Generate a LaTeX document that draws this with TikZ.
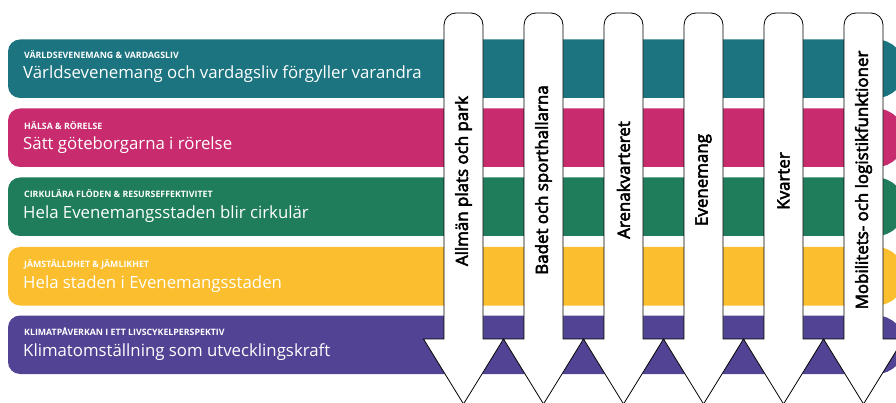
\documentclass[tikz,border=0pt]{standalone}
\usepackage{fontspec}
\setmainfont{Open Sans}
\newfontfamily\arrfont[FakeBold=3.2]{Open Sans}
\definecolor{bteal}{RGB}{28,116,128}
\definecolor{bmag}{RGB}{200,44,110}
\definecolor{bgreen}{RGB}{31,125,92}
\definecolor{byel}{RGB}{251,190,46}
\definecolor{bpurp}{RGB}{82,67,148}
\tikzset{
  capt/.style={anchor=base west, inner sep=0pt, text=white, font=\fontsize{8.8}{9}\selectfont\bfseries},
  maintxt/.style={anchor=base west, inner sep=0pt, text=white, font=\fontsize{16.8}{18}\selectfont},
  arrowbox/.style={fill=white, draw=black, line width=0.8pt, line join=miter},
  arrtxt/.style={rotate=90, inner sep=0pt, text=black, font=\arrfont\fontsize{16.9}{18}\selectfont}
}
\begin{document}
\begin{tikzpicture}[x=1pt,y=-1pt]
\useasboundingbox (0,0) rectangle (896,403);
\clip (0,0) rectangle (896,403);
% bands
\foreach \t/\c in {39.5/bteal,108.5/bmag,177.5/bgreen,247/byel,315.5/bpurp}{
  \fill[\c, rounded corners=12] (8,\t) rectangle (885,\t+58.5);
  \fill[\c] (876,\t+29.25) circle (29.25);
}
\node[capt] (c1) at (24,58.5) {VÄRLDSEVENEMANG \& VARDAGSLIV};
\node[maintxt] (m1) at (23,79) {Världsevenemang och vardagsliv förgyller varandra};
\node[capt] (c2) at (24,129.5) {HÄLSA \& RÖRELSE};
\node[maintxt] (m2) at (23,149.5) {Sätt göteborgarna i rörelse};
\node[capt] (c3) at (24,197.5) {CIRKULÄRA FLÖDEN \& RESURSEFFEKTIVITET};
\node[maintxt] (m3) at (23,218.5) {Hela Evenemangsstaden blir cirkulär};
\node[capt] (c4) at (24,267.5) {JÄMSTÄLLDHET \& JÄMLIKHET};
\node[maintxt] (m4) at (23,288) {Hela staden i Evenemangsstaden};
\node[capt] (c5) at (24,335.5) {KLIMATPÅVERKAN I ETT LIVSCYKELPERSPEKTIV};
\node[maintxt] (m5) at (23,356.5) {Klimatomställning som utvecklingskraft};
% arrows
\foreach \c in {463.5,543.5,623.5,703.5,783.5,863.5}{
  \draw[arrowbox] (\c-40,339) -- (\c-19.5,339) -- (\c-19.5,100) [rounded corners=12] -- (\c-19.5,13) -- (\c+19.5,13) -- (\c+19.5,100) [sharp corners] -- (\c+19.5,339) -- (\c+40,339) -- (\c,404) -- cycle;
}
\node[arrtxt] (a1) at (463.5,181) {Allmän plats och park};
\node[arrtxt] (a2) at (543.5,180) {Badet och sporthallarna};
\node[arrtxt] (a3) at (623.5,180) {Arenakvarteret};
\node[arrtxt] (a4) at (703.5,180) {Evenemang};
\node[arrtxt] (a5) at (783.5,181) {Kvarter};
\node[arrtxt] (a6) at (863.5,180) {Mobilitets- och logistikfunktioner};
\end{tikzpicture}
\end{document}
